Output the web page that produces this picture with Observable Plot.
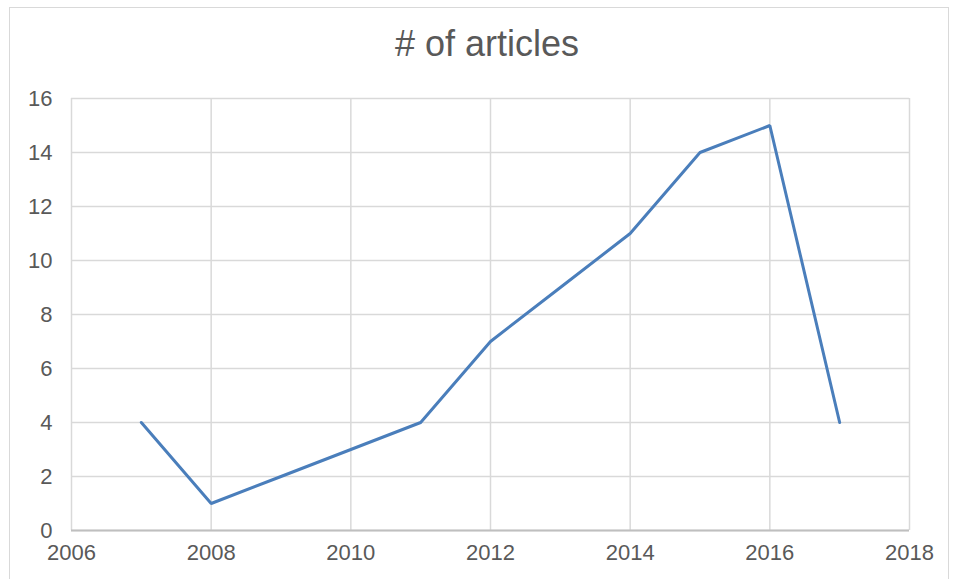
<!DOCTYPE html>
<html>
<head>
<meta charset="utf-8">
<script src="https://cdn.jsdelivr.net/npm/d3@7"></script>
<script src="https://cdn.jsdelivr.net/npm/@observablehq/plot@0.6"></script>
<style>
  body { margin: 0; background: #fff; font-family: "Liberation Sans", Arial, sans-serif; }
  #wrap { position: relative; width: 954px; height: 579px; overflow: hidden; }
  #frame { position: absolute; left: 9px; top: 7px; width: 940px; height: 590px; border: 1.5px solid #d9d9d9; box-sizing: border-box; }
  #title { position: absolute; left: 0; top: 0; width: 974px; height: 80px; line-height: 88px; text-align: center; font-size: 36px; color: #595959; }
  #chart { position: absolute; left: 0; top: 80px; }
</style>
</head>
<body>
<div id="wrap">
  <div id="frame"></div>
  <div id="title"># of articles</div>
  <div id="chart"></div>
</div>
<script>
const years = [2007, 2008, 2009, 2010, 2011, 2012, 2013, 2014, 2015, 2016, 2017];
const articles = [4, 1, 2, 3, 4, 7, 9, 11, 14, 15, 4];
const xTicks = [2006, 2008, 2010, 2012, 2014, 2016, 2018];
const yTicks = [0, 2, 4, 6, 8, 10, 12, 14, 16];

const data = years.map((y, i) => ({year: y, n: articles[i]}));

const chart = Plot.plot({
  width: 954,
  height: 499,
  marginLeft: 71,
  marginRight: 45,
  marginTop: 18,
  marginBottom: 49,
  style: { fontFamily: "'Liberation Sans', Arial, sans-serif", fontSize: "22px", color: "#595959", background: "transparent", overflow: "visible" },
  x: { domain: [2006, 2018], ticks: xTicks, tickFormat: d => String(d), label: null, tickSize: 0, tickPadding: 12 },
  y: { domain: [0, 16], ticks: yTicks, label: null, tickSize: 0, tickPadding: 19 },
  marks: [
    Plot.gridX(xTicks, { stroke: "#d9d9d9", strokeOpacity: 1, strokeWidth: 1.5 }),
    Plot.gridY(yTicks, { stroke: "#d9d9d9", strokeOpacity: 1, strokeWidth: 1.5 }),
    Plot.ruleY([0], { stroke: "#bfbfbf", strokeWidth: 2 }),
    Plot.axisX({ ticks: xTicks, tickFormat: d => String(d), tickSize: 0, tickPadding: 14, fill: "#595959" }),
    Plot.axisY({ ticks: yTicks, tickSize: 0, tickPadding: 19, fill: "#595959" }),
    Plot.line(data, { x: "year", y: "n", stroke: "#4a7ebb", strokeWidth: 3, strokeLinejoin: "miter" })
  ]
});
document.getElementById("chart").appendChild(chart);
</script>
</body>
</html>
